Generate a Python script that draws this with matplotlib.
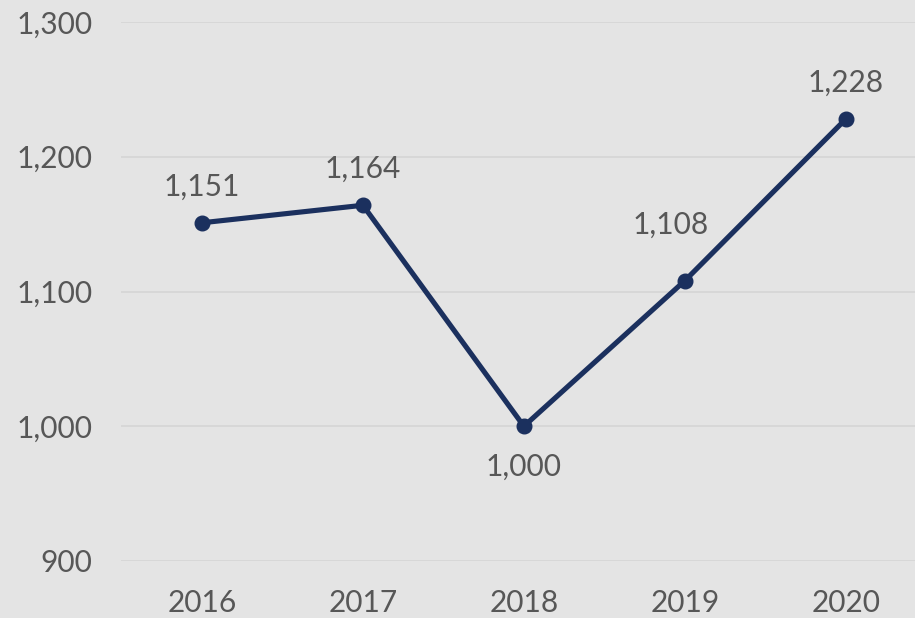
import matplotlib
matplotlib.use("Agg")
import matplotlib.pyplot as plt
from matplotlib.ticker import FuncFormatter

# data
years = ["2016", "2017", "2018", "2019", "2020"]
values = [1151, 1164, 1000, 1108, 1228]
# label offsets in points (dx, dy) from each marker
label_dx = [0, 0, 0, -10, 0]
label_dy = [26, 26, -29, 40, 26]

bg = "#e4e4e4"
navy = "#1b305e"
text_col = "#575757"

plt.rcParams["font.family"] = ["Lato", "DejaVu Sans"]

fig = plt.figure(figsize=(9.15, 6.18), dpi=100, facecolor=bg)
ax = fig.add_axes([121.5 / 915, 57 / 618, (915 - 121.5) / 915, 539 / 618])
ax.set_facecolor(bg)

x = list(range(len(years)))
ax.plot(x, values, color=navy, lw=3.7, marker="o", ms=10.5, zorder=3,
        solid_capstyle="round")

for xi, v, dx, dy in zip(x, values, label_dx, label_dy):
    ax.annotate(f"{v:,}", (xi, v), xytext=(dx, dy), textcoords="offset points",
                ha="center", va="center", fontsize=21.5, color=text_col)

ax.set_xlim(-0.5, 4.43)
ax.set_ylim(900, 1300)
ax.set_yticks([900, 1000, 1100, 1200, 1300])
ax.yaxis.set_major_formatter(FuncFormatter(lambda v, p: f"{int(v):,}"))
ax.set_xticks(x)
ax.set_xticklabels(years)
ax.grid(axis="y", color="#d6d6d6", lw=1.3)
ax.set_axisbelow(True)
for s in ax.spines.values():
    s.set_visible(False)
ax.tick_params(axis="both", length=0, labelsize=21.5, labelcolor=text_col)
ax.tick_params(axis="y", pad=21)
ax.tick_params(axis="x", pad=20)

fig.savefig("out.png", dpi=100, facecolor=bg)
